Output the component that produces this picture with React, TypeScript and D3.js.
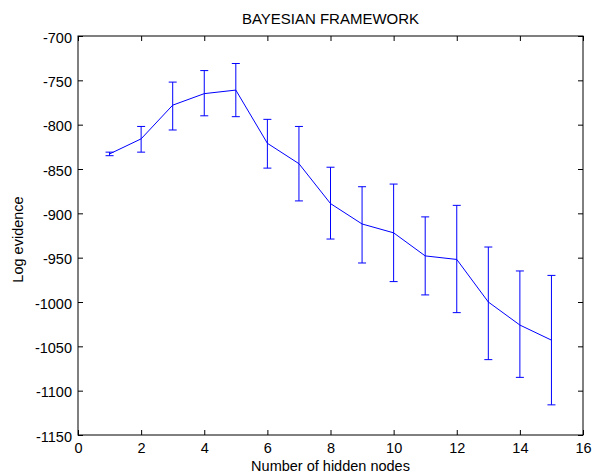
import React, { useRef, useEffect } from 'react';
import * as d3 from 'd3';

// hidden nodes vs. log evidence, with error bar ends
const nodes = [1, 2, 3, 4, 5, 6, 7, 8, 9, 10, 11, 12, 13, 14, 15];
const evidence = [-833, -816, -778, -765, -761, -821, -844, -889, -912, -922, -948, -952, -1000, -1026, -1043];
const upper = [-831, -802, -752, -739, -731, -794, -802, -848, -870, -867, -904, -891, -938, -965, -970];
const lower = [-835, -831, -806, -790, -791, -849, -886, -929, -956, -977, -992, -1012, -1065, -1085, -1116];

const xTicks = [0, 2, 4, 6, 8, 10, 12, 14, 16];
const yTicks = [-700, -750, -800, -850, -900, -950, -1000, -1050, -1100, -1150];

const App = () => {
  const chartRef = useRef<SVGSVGElement>(null);

  useEffect(() => {
    if (!chartRef.current) return;
    const W = 592;
    const H = 475;
    const margin = { top: 36, right: 9, bottom: 40, left: 78 };
    const font = 'Arial, "Liberation Sans", Helvetica, sans-serif';
    const blue = '#0000ff';
    const plain = (d) => String(d); // keep ascii hyphen like the original

    const svg = d3.select(chartRef.current)
      .attr('width', W)
      .attr('height', H)
      .html('');

    const x = d3.scaleLinear().domain([0, 16]).range([margin.left, W - margin.right]);
    const y = d3.scaleLinear().domain([-1150, -700]).range([H - margin.bottom, margin.top]);

    svg.append('rect')
      .attr('width', W).attr('height', H).attr('fill', '#fff');

    const styleAxis = (g) => {
      g.select('.domain').remove();
      g.selectAll('line').attr('stroke', '#000');
      g.selectAll('text')
        .attr('fill', '#000')
        .attr('font-family', font)
        .attr('font-size', '14.5px');
    };

    // bottom axis, inward ticks
    svg.append('g')
      .attr('transform', `translate(0,${y(-1150)})`)
      .call(d3.axisBottom(x).tickValues(xTicks).tickFormat(plain).tickSizeInner(-5).tickSizeOuter(0).tickPadding(8))
      .call(styleAxis);

    // top axis ticks only
    svg.append('g')
      .attr('transform', `translate(0,${y(-700)})`)
      .call(d3.axisTop(x).tickValues(xTicks).tickFormat(() => '').tickSizeInner(-5).tickSizeOuter(0))
      .call(styleAxis);

    // left axis
    svg.append('g')
      .attr('transform', `translate(${x(0)},0)`)
      .call(d3.axisLeft(y).tickValues(yTicks).tickFormat(plain).tickSizeInner(-5).tickSizeOuter(0).tickPadding(6))
      .call(styleAxis)
      .selectAll('text').attr('dy', '0.42em');

    // right axis ticks only
    svg.append('g')
      .attr('transform', `translate(${x(16)},0)`)
      .call(d3.axisRight(y).tickValues(yTicks).tickFormat(() => '').tickSizeInner(-5).tickSizeOuter(0))
      .call(styleAxis);

    // box
    svg.append('rect')
      .attr('x', x(0)).attr('y', y(-700))
      .attr('width', x(16) - x(0)).attr('height', y(-1150) - y(-700))
      .attr('fill', 'none').attr('stroke', '#000').attr('stroke-width', 1);

    const data = nodes.map((n, i) => ({ n, v: evidence[i], hi: upper[i], lo: lower[i] }));

    // error bars
    const bars = svg.append('g').attr('stroke', blue).attr('stroke-width', 1).attr('fill', 'none');
    const cap = 4;
    data.forEach(d => {
      bars.append('line').attr('x1', x(d.n)).attr('x2', x(d.n)).attr('y1', y(d.hi)).attr('y2', y(d.lo));
      bars.append('line').attr('x1', x(d.n) - cap).attr('x2', x(d.n) + cap).attr('y1', y(d.hi)).attr('y2', y(d.hi));
      bars.append('line').attr('x1', x(d.n) - cap).attr('x2', x(d.n) + cap).attr('y1', y(d.lo)).attr('y2', y(d.lo));
    });

    const line = d3.line<{ n: number; v: number }>()
      .x(d => x(d.n))
      .y(d => y(d.v));

    svg.append('path')
      .datum(data)
      .attr('d', line)
      .attr('fill', 'none')
      .attr('stroke', blue)
      .attr('stroke-width', 1);

    // title and labels
    svg.append('text')
      .attr('x', (x(0) + x(16)) / 2)
      .attr('y', 24)
      .attr('text-anchor', 'middle')
      .attr('font-family', font)
      .attr('font-size', '15px')
      .text('BAYESIAN FRAMEWORK');

    svg.append('text')
      .attr('x', (x(0) + x(16)) / 2)
      .attr('y', 471)
      .attr('text-anchor', 'middle')
      .attr('font-family', font)
      .attr('font-size', '14.5px')
      .text('Number of hidden nodes');

    svg.append('text')
      .attr('transform', `translate(23,${(y(-700) + y(-1150)) / 2 + 4}) rotate(-90)`)
      .attr('text-anchor', 'middle')
      .attr('font-family', font)
      .attr('font-size', '14.5px')
      .text('Log evidence');
  }, []);

  return (
    <div style={{ position: 'absolute', left: 0, top: 0, width: 592, height: 475 }}>
      <svg ref={chartRef} style={{ display: 'block' }}></svg>
    </div>
  );
};

export default App;
